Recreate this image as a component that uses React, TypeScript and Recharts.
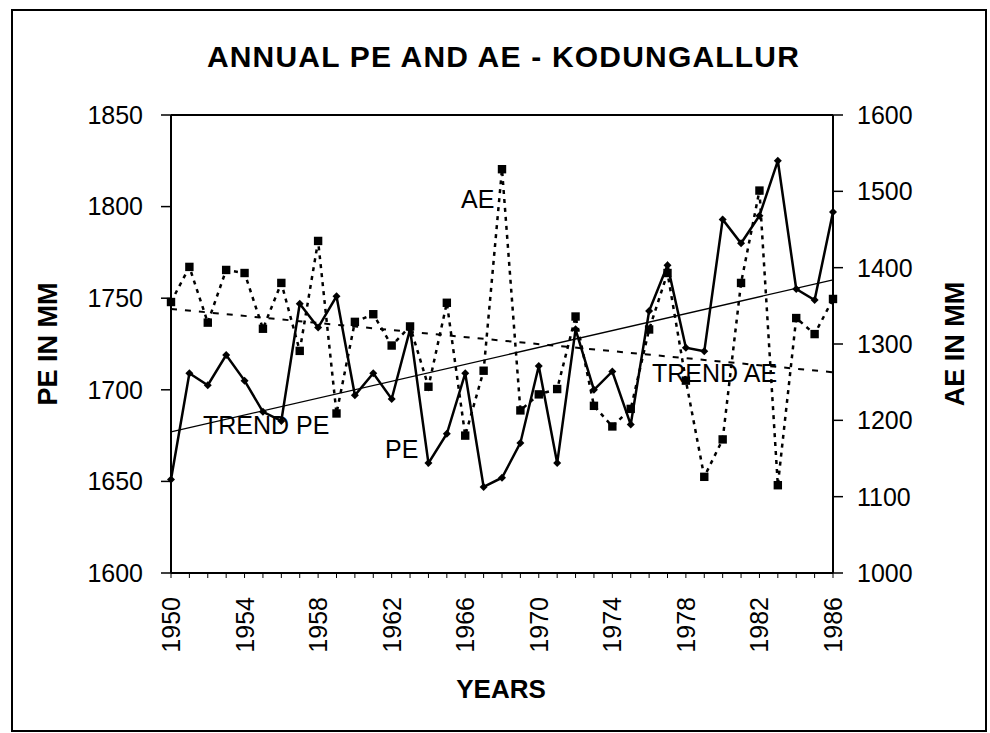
import React from 'react';
import {
  ComposedChart,
  Line,
  XAxis,
  YAxis,
  ReferenceLine,
  ReferenceDot,
  Customized,
} from 'recharts';

const FONT = '"Liberation Sans", Arial, Helvetica, sans-serif';

// ---- data ----
const years = [
  1950, 1951, 1952, 1953, 1954, 1955, 1956, 1957, 1958, 1959,
  1960, 1961, 1962, 1963, 1964, 1965, 1966, 1967, 1968, 1969,
  1970, 1971, 1972, 1973, 1974, 1975, 1976, 1977, 1978, 1979,
  1980, 1981, 1982, 1983, 1984, 1985, 1986,
];

const peValues = [
  1651, 1709, 1702.5, 1719, 1705, 1688, 1683, 1747, 1734, 1751,
  1697, 1709, 1695, 1733, 1660, 1676, 1709, 1647, 1652, 1671,
  1713, 1660, 1733, 1700, 1710, 1681, 1743, 1768, 1723, 1721,
  1793, 1780, 1795, 1825, 1755, 1749, 1797,
];

const aeValues = [
  1355, 1401, 1328, 1397, 1393, 1320, 1380, 1291, 1435, 1209,
  1329, 1339, 1298, 1323, 1244, 1354, 1180, 1265, 1529, 1213,
  1234, 1241, 1336, 1219, 1192, 1215, 1319, 1393, 1252, 1126,
  1175, 1380, 1501, 1115, 1334, 1313, 1359,
];

// trend lines: end points only
const trendPE: Record<number, number> = { 1950: 1677, 1986: 1760 };
const trendAE: Record<number, number> = { 1950: 1346, 1986: 1263 };

const peTicks = [1600, 1650, 1700, 1750, 1800, 1850];
const aeTicks = [1000, 1100, 1200, 1300, 1400, 1500, 1600];

// in-plot annotations (left edge year, baseline on PE axis)
const annotationText = ['AE', 'PE', 'TREND PE', 'TREND AE'];
const annotationYear = [1965.77, 1961.64, 1951.74, 1976.16];
const annotationPE = [1799.2, 1662.8, 1675.9, 1704.3];

const data = years.map((y, i) => ({
  year: y,
  pe: peValues[i],
  ae: aeValues[i],
  tpe: trendPE[y] ?? null,
  tae: trendAE[y] ?? null,
}));

const renderDiamond = (p: any) => {
  const { cx, cy, index } = p;
  if (cx == null || cy == null) return <g key={`d${index}`} />;
  const s = 4;
  return (
    <path
      key={`d${index}`}
      d={`M${cx},${cy - s}L${cx + s},${cy}L${cx},${cy + s}L${cx - s},${cy}Z`}
      fill="#000"
      stroke="none"
    />
  );
};

const renderSquare = (p: any) => {
  const { cx, cy, index } = p;
  if (cx == null || cy == null) return <g key={`s${index}`} />;
  const s = 4.2;
  return <rect key={`s${index}`} x={cx - s} y={cy - s} width={2 * s} height={2 * s} fill="#000" />;
};

const XTick = (props: any) => {
  const { x, y, payload } = props;
  if (payload.value % 4 !== 2) return <g />;
  return (
    <text
      x={0}
      y={0}
      transform={`translate(${x},${y}) rotate(-90)`}
      textAnchor="end"
      dy="0.36em"
      fill="#000"
      fontSize={25}
      fontFamily={FONT}
    >
      {payload.value}
    </text>
  );
};

const Decorations = () => (
  <g>
    <rect x={12} y={10} width={974} height={721} fill="none" stroke="#000" strokeWidth={2} />
    <text
      x={503.5}
      y={67}
      textAnchor="middle"
      fontSize={30}
      fontWeight="bold"
      letterSpacing={1.2}
      fontFamily={FONT}
      fill="#000"
    >
      ANNUAL PE AND AE - KODUNGALLUR
    </text>
    <text
      x={0}
      y={0}
      transform="translate(47,344) rotate(-90)"
      textAnchor="middle"
      dy="0.36em"
      fontSize={27}
      fontWeight="bold"
      fontFamily={FONT}
      fill="#000"
    >
      PE IN MM
    </text>
    <text
      x={0}
      y={0}
      transform="translate(954,344) rotate(-90)"
      textAnchor="middle"
      dy="0.36em"
      fontSize={27}
      fontWeight="bold"
      fontFamily={FONT}
      fill="#000"
    >
      AE IN MM
    </text>
    <text
      x={501}
      y={698}
      textAnchor="middle"
      fontSize={26}
      fontWeight="bold"
      fontFamily={FONT}
      fill="#000"
    >
      YEARS
    </text>
  </g>
);

export default function App() {
  return (
    <div style={{ position: 'absolute', left: 0, top: 0, width: 990, height: 733, background: '#fff' }}>
      <ComposedChart
        width={990}
        height={733}
        data={data}
        margin={{ top: 115, right: 57, bottom: 70, left: 71 }}
      >
        <Customized component={Decorations} />
        <XAxis
          dataKey="year"
          type="number"
          domain={[1950, 1986]}
          ticks={years}
          interval={0}
          height={90}
          tick={<XTick />}
          tickSize={5}
          tickMargin={19}
          axisLine={{ stroke: '#000', strokeWidth: 2 }}
          tickLine={{ stroke: '#000', strokeWidth: 1 }}
        />
        <YAxis
          yAxisId="pe"
          orientation="left"
          domain={[1600, 1850]}
          ticks={peTicks}
          interval={0}
          width={100}
          tickSize={10}
          tickMargin={18}
          tick={{ fill: '#000', fontSize: 25, fontFamily: FONT }}
          axisLine={{ stroke: '#000', strokeWidth: 2 }}
          tickLine={{ stroke: '#000', strokeWidth: 1.5 }}
        />
        <YAxis
          yAxisId="ae"
          orientation="right"
          domain={[1000, 1600]}
          ticks={aeTicks}
          interval={0}
          width={100}
          tickSize={10}
          tickMargin={14}
          tick={{ fill: '#000', fontSize: 25, fontFamily: FONT, textAnchor: 'start' }}
          axisLine={{ stroke: '#000', strokeWidth: 2 }}
          tickLine={{ stroke: '#000', strokeWidth: 1.5 }}
        />
        <ReferenceLine yAxisId="pe" y={1850} stroke="#000" strokeWidth={2} />
        <Line
          yAxisId="pe"
          dataKey="tpe"
          type="linear"
          stroke="#000"
          strokeWidth={1.3}
          dot={false}
          activeDot={false}
          connectNulls
          isAnimationActive={false}
        />
        <Line
          yAxisId="ae"
          dataKey="tae"
          type="linear"
          stroke="#000"
          strokeWidth={2}
          strokeDasharray="6 8"
          dot={false}
          activeDot={false}
          connectNulls
          isAnimationActive={false}
        />
        <Line
          yAxisId="ae"
          dataKey="ae"
          type="linear"
          stroke="#000"
          strokeWidth={2.5}
          strokeDasharray="4 5"
          dot={renderSquare}
          activeDot={false}
          isAnimationActive={false}
        />
        <Line
          yAxisId="pe"
          dataKey="pe"
          type="linear"
          stroke="#000"
          strokeWidth={2.5}
          dot={renderDiamond}
          activeDot={false}
          isAnimationActive={false}
        />
        {annotationText.map((t, i) => (
          <ReferenceDot
            key={t}
            yAxisId="pe"
            x={annotationYear[i]}
            y={annotationPE[i]}
            r={0}
            ifOverflow="visible"
            shape={(p: any) => (
              <text
                x={p.cx}
                y={p.cy}
                fill="#000"
                fontSize={25}
                fontFamily={FONT}
                textAnchor="start"
              >
                {t}
              </text>
            )}
          />
        ))}
      </ComposedChart>
    </div>
  );
}
